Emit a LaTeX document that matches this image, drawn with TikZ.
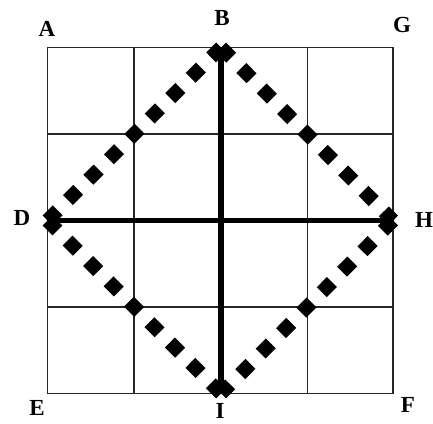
\documentclass[tikz,border=0pt]{standalone}
\usepackage{fontspec}
\setmainfont{Liberation Serif}
\begin{document}
\begin{tikzpicture}[x=1pt,y=-1pt,
  gridline/.style={line width=1.5pt,black!85},
  thickline/.style={line width=5.5pt,black},
  squaredots/.style={line width=14pt,black,dash pattern=on 14.44pt off 14.44pt},
  lbl/.style={font=\bfseries\fontsize{23}{23}\selectfont,inner sep=0pt}]
\useasboundingbox (0,0) rectangle (433,423);
% grid coordinates
\coordinate (A0) at (47.5,47.5);
\coordinate (B) at (221,47.5);
\coordinate (G0) at (393,47.5);
\coordinate (D) at (47.5,220.5);
\coordinate (H) at (393,220.5);
\coordinate (E0) at (47.5,393.5);
\coordinate (I) at (221,393.5);
\coordinate (F0) at (393,393.5);
% grid
\draw[gridline] (A0) rectangle (F0);
\foreach \x in {134,307.5} \draw[gridline] (\x,47.5) -- (\x,393.5);
\foreach \y in {134,307} \draw[gridline] (47.5,\y) -- (393,\y);
% square-dotted diamond
\draw[squaredots] (D) -- (B);
\draw[squaredots] (B) -- (H);
\draw[squaredots] (H) -- (I);
\draw[squaredots] (I) -- (D);
% thick cross
\draw[thickline] (B) -- (I);
\draw[thickline] (D) -- (H);
% labels
\node[lbl] (lA) at (47,29) {A};
\node[lbl] (lB) at (222,18) {B};
\node[lbl] (lG) at (402,25) {G};
\node[lbl] (lD) at (22,218) {D};
\node[lbl] (lH) at (424,220) {H};
\node[lbl] (lE) at (37,408) {E};
\node[lbl] (lI) at (220,411) {I};
\node[lbl] (lF) at (408,405) {F};
\end{tikzpicture}
\end{document}
